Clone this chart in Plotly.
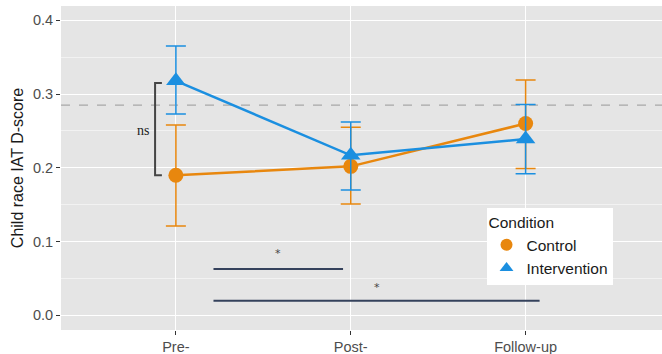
import plotly.graph_objects as go

timepoints = ["Pre-", "Post-", "Follow-up"]
control_mean = [0.190, 0.202, 0.260]
control_upper = [0.258, 0.255, 0.319]
control_lower = [0.121, 0.151, 0.199]
interv_mean = [0.318, 0.217, 0.239]
interv_upper = [0.365, 0.262, 0.286]
interv_lower = [0.273, 0.170, 0.192]
reference_line = 0.285

ORANGE = "#E8870E"
BLUE = "#1B8FE0"

fig = go.Figure()

def add_series(name, mean, up, lo, color, symbol, size):
    fig.add_trace(go.Scatter(
        x=timepoints, y=mean, name=name, mode="lines+markers", showlegend=False,
        line=dict(color=color, width=2.5),
        marker=dict(color=color, symbol=symbol, size=size),
        error_y=dict(type="data", symmetric=False,
                     array=[u - m for u, m in zip(up, mean)],
                     arrayminus=[m - l for m, l in zip(mean, lo)],
                     color=color, thickness=1.5, width=10),
    ))
    # legend key: marker only
    fig.add_trace(go.Scatter(
        x=[None], y=[None], name=name, mode="markers",
        marker=dict(color=color, symbol=symbol, size=size),
    ))

add_series("Control", control_mean, control_upper, control_lower, ORANGE, "circle", 15)
add_series("Intervention", interv_mean, interv_upper, interv_lower, BLUE, "triangle-up", 17)

fig.add_shape(type="line", xref="paper", yref="y", x0=0, x1=1,
              y0=reference_line, y1=reference_line,
              line=dict(color="#A8A8A8", width=1.2, dash="dash"), layer="below")

# ns bracket (Pre- control vs intervention)
BR_X = -0.119
BR_TICK = -0.08
fig.add_shape(type="path", xref="x", yref="y",
              path=f"M {BR_TICK} {interv_mean[0] - 0.003} L {BR_X} {interv_mean[0] - 0.003} "
                   f"L {BR_X} {control_mean[0]} L {BR_TICK} {control_mean[0]}",
              line=dict(color="#454545", width=2))
fig.add_annotation(x=-0.19, y=0.251, xref="x", yref="y", text="ns", showarrow=False,
                   font=dict(family="Liberation Serif", size=14, color="#222222"))

# significance lines for intervention
SIG_COLOR = "#35425C"
sig = [(0.215, 0.956, 0.0628, 0.0835), (0.215, 2.08, 0.0198, 0.0375)]
for x0, x1, yl, yt in sig:
    fig.add_shape(type="line", xref="x", yref="y", x0=x0, x1=x1, y0=yl, y1=yl,
                  line=dict(color=SIG_COLOR, width=2))
    fig.add_annotation(x=(x0 + x1) / 2, y=yt, xref="x", yref="y", text="*",
                       showarrow=False,
                       font=dict(family="DejaVu Sans", size=11, color="#444444"))

fig.update_layout(
    width=662, height=354,
    margin=dict(l=61, r=0, t=6, b=24),
    paper_bgcolor="white", plot_bgcolor="#E5E5E5",
    font=dict(family="Liberation Sans", color="#4D4D4D"),
    showlegend=True,
    legend=dict(x=0.708, y=0.3765, xanchor="left", yanchor="top",
                bgcolor="white", title=dict(text="Condition", font=dict(size=15.5, color="#1A1A1A")),
                font=dict(size=15.5, color="#1A1A1A"), itemsizing="constant",
                itemwidth=30, tracegroupgap=0),
)
fig.update_xaxes(
    type="category", range=[-0.657, 2.78], showgrid=True, gridcolor="white", gridwidth=1.2,
    ticks="outside", ticklen=4, tickcolor="#333333", tickwidth=1,
    tickfont=dict(size=14.5, color="#4D4D4D"), zeroline=False, showline=False,
)
fig.update_yaxes(
    range=[-0.0199, 0.4194], tickvals=[0.0, 0.1, 0.2, 0.3, 0.4],
    ticktext=["0.0", "0.1", "0.2", "0.3", "0.4"],
    showgrid=True, gridcolor="white", gridwidth=1.2,
    minor=dict(tickvals=[0.05, 0.15, 0.25, 0.35], showgrid=True, gridcolor="#F2F2F2", gridwidth=0.6),
    ticks="outside", ticklen=4, tickcolor="#333333", tickwidth=1,
    tickfont=dict(size=14.5, color="#4D4D4D"), zeroline=False, showline=False,
    title=dict(text="Child race IAT D-score", font=dict(size=16, color="#1A1A1A"), standoff=5),
)

fig.write_html("out.html")
